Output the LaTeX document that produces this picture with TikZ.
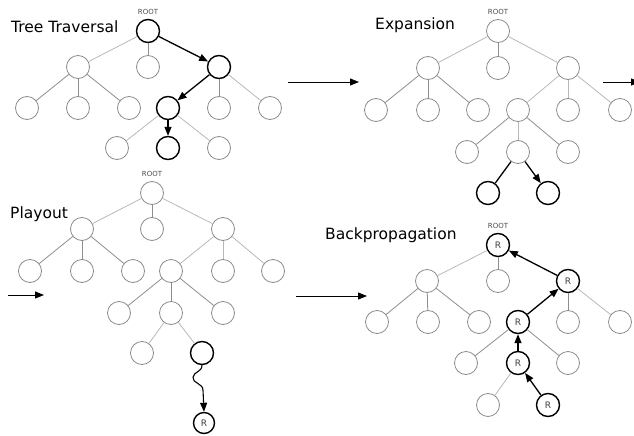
\documentclass[tikz,border=0pt]{standalone}
\usepackage{fontspec}
\setmainfont{DejaVu Sans}
\usetikzlibrary{arrows.meta}
\definecolor{ndgray}{HTML}{8C8C8C}
\definecolor{lightedge}{HTML}{B8B8B8}
\definecolor{midedge}{HTML}{8E8E8E}
\begin{document}
\begin{tikzpicture}[x=1pt,y=-1pt,
  nd/.style={circle,draw=ndgray,line width=0.8pt,minimum size=23pt,inner sep=0pt},
  hot/.style={circle,draw=black,line width=1.4pt,minimum size=23pt,inner sep=0pt,
              font=\fontsize{9}{10}\selectfont,text=black!75},
  lite/.style={draw=lightedge,line width=0.8pt},
  mid/.style={draw=midedge,line width=0.8pt},
  flow/.style={draw=black,line width=1.3pt,-{Triangle[length=9pt,width=7pt]}},
  plain/.style={draw=black,line width=1.3pt},
  stage/.style={draw=black,line width=0.9pt,-{Triangle[length=9pt,width=7pt]}},
  title/.style={anchor=base west,inner sep=0pt,font=\fontsize{15.5}{18}\selectfont},
  rootlab/.style={inner sep=0pt,font=\fontsize{7}{8}\selectfont,text=black!70}]
\useasboundingbox (0,0) rectangle (634,436);
\clip (0,0) rectangle (634,436);

% ---------- Tree traversal ----------
\node[title] (tA) at (11,33) {Tree Traversal};
\begin{scope}[shift={(148,31)}]
  \node[rootlab] (A-lab) at (0,-19) {ROOT};
  \node[hot] (A-r) at (0,0) {};
  \node[nd] (A-a) at (-70,36) {};
  \node[nd] (A-b) at (0,36) {};
  \node[hot] (A-c) at (71,36) {};
  \node[nd] (A-aa) at (-121,77) {};
  \node[nd] (A-ab) at (-70,77) {};
  \node[nd] (A-ac) at (-19,77) {};
  \node[hot] (A-ca) at (20,77) {};
  \node[nd] (A-cb) at (71,77) {};
  \node[nd] (A-cc) at (122,77) {};
  \node[nd] (A-caa) at (-31,117) {};
  \node[hot] (A-cab) at (20,117) {};
  \node[nd] (A-cac) at (71,117) {};
\end{scope}
\draw[lite] (A-r) -- (A-a);
\draw[mid] (A-r) -- (A-b);
\draw[mid] (A-a) -- (A-aa);
\draw[mid] (A-a) -- (A-ab);
\draw[mid] (A-a) -- (A-ac);
\draw[mid] (A-c) -- (A-cb);
\draw[lite] (A-c) -- (A-cc);
\draw[lite] (A-ca) -- (A-caa);
\draw[lite] (A-ca) -- (A-cac);
\draw[flow] (A-r) -- (A-c);
\draw[flow] (A-c) -- (A-ca);
\draw[flow] (A-ca) -- (A-cab);

% ---------- Expansion ----------
\node[title] (tB) at (375,30) {Expansion};
\begin{scope}[shift={(498,31)}]
  \node[rootlab] (B-lab) at (0,-19) {ROOT};
  \node[nd] (B-r) at (0,0) {};
  \node[nd] (B-a) at (-70,37) {};
  \node[nd] (B-b) at (0,37) {};
  \node[nd] (B-c) at (70,37) {};
  \node[nd] (B-aa) at (-122,79) {};
  \node[nd] (B-ab) at (-70,79) {};
  \node[nd] (B-ac) at (-20,79) {};
  \node[nd] (B-ca) at (20,79) {};
  \node[nd] (B-cb) at (70,79) {};
  \node[nd] (B-cc) at (122,79) {};
  \node[nd] (B-caa) at (-31,121) {};
  \node[nd] (B-cab) at (20,121) {};
  \node[nd] (B-cac) at (70,121) {};
  \node[hot] (B-caba) at (-10,162) {};
  \node[hot] (B-cabb) at (50,162) {};
\end{scope}
\draw[lite] (B-r) -- (B-a);
\draw[mid] (B-r) -- (B-b);
\draw[lite] (B-r) -- (B-c);
\draw[mid] (B-a) -- (B-aa);
\draw[mid] (B-a) -- (B-ab);
\draw[mid] (B-a) -- (B-ac);
\draw[lite] (B-c) -- (B-ca);
\draw[lite] (B-c) -- (B-cb);
\draw[lite] (B-c) -- (B-cc);
\draw[mid] (B-ca) -- (B-caa);
\draw[lite] (B-ca) -- (B-cab);
\draw[mid] (B-ca) -- (B-cac);
\draw[plain] (B-cab) -- (B-caba);
\draw[flow] (B-cab) -- (B-cabb);

% ---------- Playout ----------
\node[title] (tC) at (10,218) {Playout};
\begin{scope}[shift={(152,193)}]
  \node[rootlab] (C-lab) at (0,-19) {ROOT};
  \node[nd] (C-r) at (0,0) {};
  \node[nd] (C-a) at (-70,36) {};
  \node[nd] (C-b) at (0,36) {};
  \node[nd] (C-c) at (71,36) {};
  \node[nd] (C-aa) at (-122,78) {};
  \node[nd] (C-ab) at (-70,78) {};
  \node[nd] (C-ac) at (-19,78) {};
  \node[nd] (C-ca) at (19,78) {};
  \node[nd] (C-cb) at (71,78) {};
  \node[nd] (C-cc) at (121,78) {};
  \node[nd] (C-caa) at (-33,120) {};
  \node[nd] (C-cab) at (19,120) {};
  \node[nd] (C-cac) at (71,120) {};
  \node[nd] (C-caba) at (-10,160) {};
  \node[hot] (C-cabb) at (50,160) {};
  \node[hot,minimum size=21pt] (C-res) at (52,230) {R};
\end{scope}
\draw[lite] (C-r) -- (C-a);
\draw[mid] (C-r) -- (C-b);
\draw[lite] (C-r) -- (C-c);
\draw[mid] (C-a) -- (C-aa);
\draw[mid] (C-a) -- (C-ab);
\draw[mid] (C-a) -- (C-ac);
\draw[lite] (C-c) -- (C-ca);
\draw[lite] (C-c) -- (C-cb);
\draw[lite] (C-c) -- (C-cc);
\draw[mid] (C-ca) -- (C-caa);
\draw[mid] (C-ca) -- (C-cab);
\draw[mid] (C-ca) -- (C-cac);
\draw[lite] (C-cab) -- (C-caba);
\draw[lite] (C-cab) -- (C-cabb);
% random playout drawn as a wiggle
\draw[flow,line width=1.1pt] (C-cabb.south)
  .. controls +(0,7) and +(1,-6) .. ++(-9,12)
  .. controls +(-1,6) and +(0,-7) .. ++(10,13)
  -- (C-res.north);

% ---------- Backpropagation ----------
\node[title] (tD) at (325,239) {Backpropagation};
\begin{scope}[shift={(498,245)}]
  \node[rootlab] (D-lab) at (0,-19) {ROOT};
  \node[hot] (D-r) at (0,0) {R};
  \node[nd] (D-a) at (-71,36) {};
  \node[nd] (D-b) at (0,36) {};
  \node[hot] (D-c) at (70,36) {R};
  \node[nd] (D-aa) at (-121,77) {};
  \node[nd] (D-ab) at (-70,77) {};
  \node[nd] (D-ac) at (-19,77) {};
  \node[hot] (D-ca) at (20,77) {R};
  \node[nd] (D-cb) at (70,77) {};
  \node[nd] (D-cc) at (122,77) {};
  \node[nd] (D-caa) at (-32,118) {};
  \node[hot] (D-cab) at (20,118) {R};
  \node[nd] (D-cac) at (70,118) {};
  \node[nd] (D-caba) at (-10,160) {};
  \node[hot] (D-cabb) at (50,160) {R};
\end{scope}
\draw[lite] (D-r) -- (D-a);
\draw[mid] (D-r) -- (D-b);
\draw[mid] (D-a) -- (D-aa);
\draw[mid] (D-a) -- (D-ab);
\draw[mid] (D-a) -- (D-ac);
\draw[mid] (D-c) -- (D-cb);
\draw[lite] (D-c) -- (D-cc);
\draw[mid] (D-ca) -- (D-caa);
\draw[mid] (D-ca) -- (D-cac);
\draw[lite] (D-cab) -- (D-caba);
\draw[flow] (D-cabb) -- (D-cab);
\draw[flow] (D-cab) -- (D-ca);
\draw[flow] (D-ca) -- (D-c);
\draw[flow] (D-c) -- (D-r);

% ---------- arrows between the stages ----------
\coordinate (s1a) at (288,82);
\coordinate (s1b) at (359,82);
\coordinate (s2a) at (603,82);
\coordinate (s2b) at (640,82);
\coordinate (s3a) at (8,295);
\coordinate (s3b) at (44,295);
\coordinate (s4a) at (296,296);
\coordinate (s4b) at (367,296);
\draw[stage] (s1a) -- (s1b);
\draw[stage] (s2a) -- (s2b);
\draw[stage] (s3a) -- (s3b);
\draw[stage] (s4a) -- (s4b);
\end{tikzpicture}
\end{document}
